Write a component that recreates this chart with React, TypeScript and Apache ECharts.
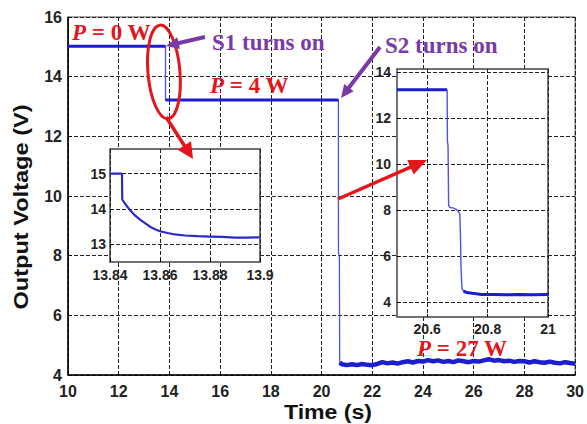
import React, { useEffect, useRef } from "react";
import * as echarts from "echarts";

// ---- Main chart data ----
const level0Time = [10, 13.845];
const level0Volt = [15.02, 15.02];
const level1Time = [13.846, 20.665];
const level1Volt = [13.22, 13.22];
const dropTime = [20.667, 20.69, 20.705, 20.715];
const dropVolt = [8.1, 8.05, 7.9, 4.5];
const noiseTime = [20.72, 20.8, 21.0, 21.2, 21.4, 21.6, 21.8, 22.0, 22.2, 22.4, 22.6, 22.8, 23.0, 23.2, 23.4, 23.6, 23.8, 24.0, 24.2, 24.4, 24.6, 24.8, 25.0, 25.2, 25.4, 25.6, 25.8, 26.0, 26.2, 26.4, 26.6, 26.8, 27.0, 27.2, 27.4, 27.6, 27.8, 28.0, 28.2, 28.4, 28.6, 28.8, 29.0, 29.2, 29.4, 29.6, 29.8, 30.0];
const noiseVolt = [4.42, 4.36, 4.33, 4.36, 4.33, 4.37, 4.34, 4.33, 4.37, 4.43, 4.39, 4.42, 4.38, 4.43, 4.46, 4.42, 4.47, 4.45, 4.5, 4.46, 4.49, 4.44, 4.47, 4.43, 4.49, 4.46, 4.43, 4.47, 4.45, 4.49, 4.53, 4.48, 4.5, 4.46, 4.48, 4.44, 4.47, 4.46, 4.42, 4.46, 4.43, 4.41, 4.45, 4.41, 4.39, 4.43, 4.4, 4.38];

// ---- Inset 1 (S1 turn-on) ----
const in1Time = [13.84, 13.8448, 13.8449, 13.846, 13.848, 13.85, 13.852, 13.854, 13.856, 13.858, 13.86, 13.863, 13.866, 13.87, 13.875, 13.88, 13.885, 13.89, 13.895, 13.9];
const in1Volt = [15.0, 15.0, 14.27, 14.15, 13.97, 13.82, 13.7, 13.6, 13.5, 13.43, 13.37, 13.32, 13.28, 13.25, 13.23, 13.22, 13.21, 13.19, 13.19, 13.2];

// ---- Inset 2 (S2 turn-on) ----
const in2TopTime = [20.5, 20.666];
const in2TopVolt = [13.25, 13.25];
const in2MidTime = [20.666, 20.667, 20.669, 20.671, 20.675, 20.685, 20.695, 20.703, 20.708, 20.71, 20.712, 20.715, 20.72];
const in2MidVolt = [13.25, 11.0, 10.8, 8.2, 8.12, 8.1, 8.05, 7.95, 7.85, 7.0, 5.5, 4.6, 4.48];
const in2LowTime = [20.72, 20.73, 20.75, 20.78, 20.82, 20.86, 20.9, 20.95, 21.0];
const in2LowVolt = [4.48, 4.42, 4.38, 4.33, 4.33, 4.32, 4.33, 4.32, 4.33];

// ---- Ticks ----
const in1YTicks = [13, 14, 15];
const in2XTicks = [20.6, 20.8, 21];
const in2YTicks = [4, 6, 8, 10, 12, 14];

const pairs = (xs: number[], ys: number[]) => xs.map((x, i) => [x, ys[i]]);

const RED = "#e3161c";
const PURPLE = "#7a3aa6";
const BLUE = "#1c1cd0";
const BLUE_THIN = "#5050e0";
const SANS = "Liberation Sans, Arial, sans-serif";
const SERIF = "Liberation Serif, Times New Roman, serif";

function arrow(x1: number, y1: number, x2: number, y2: number, color: string, w: number, hl: number, hw: number) {
  const dx = x2 - x1, dy = y2 - y1;
  const L = Math.hypot(dx, dy);
  const ux = dx / L, uy = dy / L;
  const bx = x2 - ux * hl, by = y2 - uy * hl;
  return [
    { type: "line", z: 100, shape: { x1, y1, x2: bx + ux * 2, y2: by + uy * 2 }, style: { stroke: color, lineWidth: w } },
    { type: "polygon", z: 100, shape: { points: [[x2, y2], [bx - uy * hw, by + ux * hw], [bx + uy * hw, by - ux * hw]] }, style: { fill: color } },
  ];
}

function pText(x: number, y: number, rest: string) {
  return {
    type: "text", z: 100, x, y,
    style: {
      text: "{i|P}{n|" + rest + "}",
      textVerticalAlign: "middle",
      rich: {
        i: { fontFamily: SERIF, fontSize: 23, fontWeight: "bold", fontStyle: "italic", fill: RED },
        n: { fontFamily: SERIF, fontSize: 23, fontWeight: "bold", fill: RED },
      },
    },
  };
}

function labelText(x: number, y: number, t: string) {
  return {
    type: "text", z: 100, x, y,
    style: { text: t, fill: PURPLE, font: "bold 23px " + SERIF, textVerticalAlign: "middle" },
  };
}

const gridLine = () => ({ show: true, lineStyle: { color: "#222", type: "dashed", dashOffset: 0, width: 1 } });

export default function App() {
  const ref = useRef<HTMLDivElement>(null);
  useEffect(() => {
    if (!ref.current) return;
    const chart = echarts.init(ref.current, null, { renderer: "svg" });
    const mainLabel = { color: "#222", fontFamily: SANS, fontWeight: "bold" as const, fontSize: 16 };
    const insetLabel = { color: "#222", fontFamily: SANS, fontWeight: "bold" as const, fontSize: 14 };
    const option: any = {
      animation: false,
      backgroundColor: "#fff",
      grid: [
        { left: 68, top: 17, width: 511, height: 358, show: true, borderColor: "#555", borderWidth: 1 },
        { left: 110, top: 149, width: 150, height: 113, show: true, borderColor: "#444", borderWidth: 1.5, backgroundColor: "#fff", z: 10 },
        { left: 397, top: 69, width: 151, height: 248, show: true, borderColor: "#444", borderWidth: 1.5, backgroundColor: "#fff", z: 10 },
      ],
      xAxis: [
        {
          gridIndex: 0, type: "value", min: 10, max: 30, interval: 2,
          axisLine: { show: true, onZero: false, lineStyle: { color: "#000", width: 1.5 } },
          axisTick: { show: true, inside: true, length: 4, lineStyle: { color: "#000" } },
          axisLabel: { ...mainLabel, margin: 8 },
          splitLine: gridLine(),
        },
        {
          gridIndex: 1, type: "value", min: 13.84, max: 13.9, interval: 0.02, z: 11,
          axisLine: { show: false },
          axisTick: { show: true, inside: true, length: 3, lineStyle: { color: "#000" } },
          axisLabel: { ...insetLabel, margin: 6, formatter: (v: number) => String(+v.toFixed(2)) },
          splitLine: gridLine(),
        },
        {
          gridIndex: 2, type: "value", min: 20.5, max: 21, z: 11,
          axisLine: { show: false },
          axisTick: { show: true, inside: true, length: 3, customValues: in2XTicks, lineStyle: { color: "#000" } },
          axisLabel: { ...insetLabel, margin: 5, customValues: in2XTicks, formatter: (v: number) => String(+v.toFixed(1)) },
          splitLine: gridLine(),
        },
      ],
      yAxis: [
        {
          gridIndex: 0, type: "value", min: 4, max: 16, interval: 2,
          axisLine: { show: true, onZero: false, lineStyle: { color: "#000", width: 1.5 } },
          axisTick: { show: true, inside: true, length: 4, lineStyle: { color: "#000" } },
          axisLabel: { ...mainLabel, margin: 6 },
          splitLine: gridLine(),
        },
        {
          gridIndex: 1, type: "value", min: 12.5, max: 15.7, z: 11,
          axisLine: { show: false },
          axisTick: { show: true, inside: true, length: 3, customValues: in1YTicks, lineStyle: { color: "#000" } },
          axisLabel: { ...insetLabel, margin: 4, customValues: in1YTicks },
          splitLine: gridLine(),
        },
        {
          gridIndex: 2, type: "value", min: 3.35, max: 14.15, z: 11,
          axisLine: { show: false },
          axisTick: { show: true, inside: true, length: 3, customValues: in2YTicks, lineStyle: { color: "#000" } },
          axisLabel: { ...insetLabel, margin: 6, customValues: in2YTicks },
          splitLine: gridLine(),
        },
      ],
      series: [
        {
          type: "line", xAxisIndex: 0, yAxisIndex: 0, showSymbol: false, z: 2,
          lineStyle: { color: BLUE_THIN, width: 1.3 },
          data: [
            ...pairs(level0Time, level0Volt), ...pairs(level1Time, level1Volt),
            ...pairs(dropTime, dropVolt), ...pairs(noiseTime, noiseVolt),
          ],
        },
        { type: "line", xAxisIndex: 0, yAxisIndex: 0, showSymbol: false, z: 3, lineStyle: { color: BLUE, width: 3 }, data: pairs(level0Time, level0Volt) },
        { type: "line", xAxisIndex: 0, yAxisIndex: 0, showSymbol: false, z: 3, lineStyle: { color: BLUE, width: 3 }, data: pairs(level1Time, level1Volt) },
        { type: "line", xAxisIndex: 0, yAxisIndex: 0, showSymbol: false, z: 3, lineStyle: { color: BLUE, width: 4.5 }, data: pairs(noiseTime, noiseVolt) },
        { type: "line", xAxisIndex: 1, yAxisIndex: 1, showSymbol: false, z: 12, lineStyle: { color: "#2a2ac8", width: 2.2 }, data: pairs(in1Time, in1Volt) },
        { type: "line", xAxisIndex: 2, yAxisIndex: 2, showSymbol: false, z: 12, lineStyle: { color: BLUE, width: 3 }, data: pairs(in2TopTime, in2TopVolt) },
        { type: "line", xAxisIndex: 2, yAxisIndex: 2, showSymbol: false, z: 12, lineStyle: { color: BLUE_THIN, width: 1.4 }, data: pairs(in2MidTime, in2MidVolt) },
        { type: "line", xAxisIndex: 2, yAxisIndex: 2, showSymbol: false, z: 12, lineStyle: { color: BLUE, width: 3 }, data: pairs(in2LowTime, in2LowVolt) },
      ],
      graphic: {
        elements: [
          {
            type: "text", z: 100, x: 21, y: 207, rotation: Math.PI / 2, scaleX: 1.18,
            style: { text: "Output Voltage (V)", font: "bold 20px " + SANS, fill: "#111", textAlign: "center", textVerticalAlign: "middle" },
          },
          {
            type: "text", z: 100, x: 328, y: 412, scaleX: 1.1,
            style: { text: "Time (s)", font: "bold 21px " + SANS, fill: "#111", textAlign: "center", textVerticalAlign: "middle" },
          },
          pText(72, 32, " = 0 W"),
          pText(210, 85, " = 4 W"),
          pText(417, 348, " = 27 W"),
          labelText(212, 42, "S1 turns on"),
          labelText(385, 45, "S2 turns on"),
          {
            type: "ellipse", z: 100, originX: 164, originY: 72, rotation: 0.085,
            shape: { cx: 164, cy: 72, rx: 16, ry: 47 },
            style: { fill: "none", stroke: RED, lineWidth: 3 },
          },
          ...arrow(205, 37, 166, 46, PURPLE, 4, 13, 6),
          ...arrow(380, 47, 341, 98, PURPLE, 4, 13, 6),
          ...arrow(166, 117, 193, 159, RED, 3.5, 16, 8),
          ...arrow(338, 199, 427, 160, RED, 3.5, 18, 8),
        ],
      },
    };
    chart.setOption(option);
    return () => chart.dispose();
  }, []);
  return <div ref={ref} style={{ position: "fixed", left: 0, top: 0, width: 587, height: 424, background: "#fff" }} />;
}
